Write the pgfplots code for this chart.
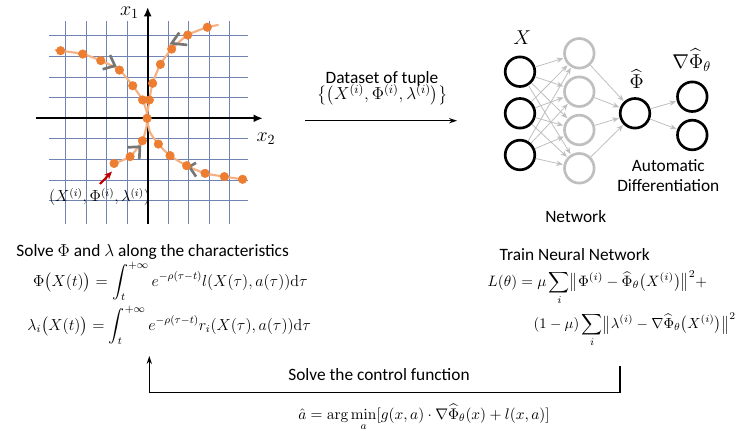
\RequirePackage{fix-cm}
\documentclass[border=0pt]{standalone}
\usepackage{amsmath}
\usepackage[no-math]{fontspec}
\setmainfont{Carlito}
\usepackage{pgfplots}
\pgfplotsset{compat=1.18}
\usetikzlibrary{arrows.meta,calc}

\definecolor{gridc}{RGB}{112,132,178}
\definecolor{orangedot}{RGB}{237,125,49}
\definecolor{peach}{RGB}{244,177,131}
\definecolor{chev}{RGB}{118,118,118}
\definecolor{darkred}{RGB}{192,0,0}
\definecolor{netgray}{RGB}{191,191,191}

\begin{document}
\begin{tikzpicture}[font=\fontsize{13}{15.6}\selectfont]

% ---------------- left: characteristics plot ----------------
\begin{axis}[
  at={(110.775pt,233.775pt)}, anchor=origin,
  scale only axis, width=149.1pt, height=151.9pt,
  xmin=-4.8, xmax=4.9, ymin=-5.13, ymax=4.7,
  xtick={-4,...,4}, ytick={-4,...,4},
  xticklabels={}, yticklabels={},
  major tick length=0pt,
  grid=major, grid style={gridc, line width=0.8pt},
  axis line style={draw=none},
  clip=false,
]
% coordinate axes
\draw[black, line width=1.6pt, -{Latex[length=7pt,width=6pt]}] (axis cs:-5.45,0) -- (axis cs:5.62,0);
\draw[black, line width=1.6pt, -{Latex[length=7pt,width=6pt]}] (axis cs:0,-5.13) -- (axis cs:0,5.40);
% trajectories
\addplot[peach, line width=1.6pt, smooth, tension=0.4] coordinates {
  (-4.53,3.32) (-4.25,3.28) (-3.17,3.12) (-2.29,2.80) (-1.38,2.34) (-0.73,1.58) (-0.25,0.89) (-0.06,0.35) (-0.03,0)};
\addplot[peach, line width=1.6pt, smooth, tension=0.4] coordinates {
  (3.46,4.53) (2.91,4.42) (1.95,4.04) (1.17,3.36) (0.62,2.62) (0.24,1.70) (0.08,0.89) (0.0,0.35) (-0.03,0)};
\addplot[peach, line width=1.6pt, smooth, tension=0.4] coordinates {
  (-1.80,-2.26) (-1.64,-2.19) (-0.86,-1.86) (-0.26,-1.09) (-0.06,-0.40) (-0.03,0)};
\addplot[peach, line width=1.6pt, smooth, tension=0.4] coordinates {
  (-0.03,0) (0.10,-0.65) (0.52,-1.25) (1.09,-1.81) (1.90,-2.30) (2.80,-2.67) (3.74,-2.83) (4.63,-2.96) (4.85,-2.98)};
% direction chevrons
\draw[chev, line width=2pt] (axis cs:-1.84,3.07) -- (axis cs:-1.60,2.55) -- (axis cs:-2.20,2.38);
\draw[chev, line width=2pt] (axis cs:1.54,4.16) -- (axis cs:1.17,3.64) -- (axis cs:1.93,3.56);
\draw[chev, line width=2pt] (axis cs:-1.00,-1.41) -- (axis cs:-0.38,-1.38) -- (axis cs:-0.41,-1.99);
\draw[chev, line width=2pt] (axis cs:2.36,-2.16) -- (axis cs:2.03,-2.35) -- (axis cs:2.36,-2.83);
% sample points
\addplot[only marks, mark=*, mark size=3.2pt, orangedot, mark options={draw=none, fill=orangedot}] coordinates {
  (-4.25,3.28) (-3.17,3.12) (-2.29,2.80) (-1.38,2.34) (-0.73,1.58) (-0.25,0.89)
  (2.91,4.42) (1.95,4.04) (1.17,3.36) (0.62,2.62) (0.24,1.70) (0.08,0.89)
  (-1.64,-2.19) (-0.86,-1.86) (-0.26,-1.09) (-0.03,0)
  (0.52,-1.25) (1.09,-1.81) (1.90,-2.30) (2.80,-2.67) (3.74,-2.83) (4.63,-2.96)};
\end{axis}

\begin{scope}[x=0.75pt, y=-0.75pt, yshift=322.5pt]
\useasboundingbox (0,0) rectangle (738,430);

\node[font=\fontsize{15}{17}\selectfont] at (129.5,12.5) {$x_1$};
\node[font=\fontsize{15}{17}\selectfont] at (266,139) {$x_2$};
\draw[darkred, line width=1.6pt, -{Stealth[length=6pt,width=5pt]}] (100,184) -- (112,171.5);
\node[font=\fontsize{12}{14}\selectfont] at (99.5,197) {$(X^{(i)},\Phi^{(i)},\lambda^{(i)})$};

% ---------------- dataset arrow ----------------
\node at (382,79) {Dataset of tuple};
\node at (382.5,95) {$\bigl\{\bigl(X^{(i)},\Phi^{(i)},\lambda^{(i)}\bigr)\bigr\}$};
\draw[black, line width=0.8pt, -{Stealth[length=6pt,width=4pt]}] (305,120.7) -- (457,120.7);

% ---------------- network ----------------
\tikzset{
  inn/.style={circle, draw=black, line width=2pt, minimum size=22.2pt, inner sep=0pt},
  hid/.style={circle, draw=netgray, line width=2pt, minimum size=22.2pt, inner sep=0pt},
  edge/.style={netgray, line width=0.6pt, -{Stealth[length=5pt,width=4pt]}, shorten >=0.5pt},
}
\node[inn] (i1) at (520,71.7) {};
\node[inn] (i2) at (520,113.3) {};
\node[inn] (i3) at (520,155) {};
\node[hid] (h1) at (579.3,53.3) {};
\node[hid] (h2) at (579.3,91.7) {};
\node[hid] (h3) at (579.3,130) {};
\node[hid] (h4) at (579.3,168.3) {};
\node[inn] (o) at (635,113.3) {};
\node[inn] (g1) at (692.3,96.7) {};
\node[inn] (g2) at (692.3,135) {};
\foreach \a in {i1,i2,i3}{
  \foreach \b in {h1,h2,h3,h4}{
    \draw[edge] (\a) -- (\b);
  }
}
\foreach \b in {h1,h2,h3,h4}{ \draw[edge] (\b) -- (o); }
\draw[edge] (o) -- (g1);
\draw[edge] (o) -- (g2);

\node[font=\fontsize{15}{17}\selectfont] at (522.3,37.3) {$X$};
\node[font=\fontsize{15}{17}\selectfont] at (636.7,79) {$\widehat{\Phi}$};
\node[font=\fontsize{15}{17}\selectfont] at (691.7,60) {$\nabla\widehat{\Phi}_\theta$};
\node at (668.3,165.7) {Automatic};
\node at (668.3,185.7) {Differentiation};
\node at (575.7,216.7) {Network};

% ---------------- bottom left: equations ----------------
\node[anchor=west] at (11.7,251.7) {Solve $\Phi$ and $\lambda$ along the characteristics};
\node[anchor=base west, font=\fontsize{12}{14}\selectfont] at (28.3,286) {$\displaystyle \Phi\bigl(X(t)\bigr) = \int_t^{+\infty} e^{-\rho(\tau-t)} l(X(\tau),a(\tau))\mathrm{d}\tau$};
\node[anchor=base west, font=\fontsize{12}{14}\selectfont] at (22.7,330.5) {$\displaystyle \lambda_i\bigl(X(t)\bigr) = \int_t^{+\infty} e^{-\rho(\tau-t)} r_i(X(\tau),a(\tau))\mathrm{d}\tau$};

% ---------------- bottom right: loss ----------------
\node[anchor=west] at (495,255) {Train Neural Network};
\node[anchor=base west, font=\fontsize{11.3}{13}\selectfont] at (483,286.4) {$\displaystyle L(\theta) = \mu\sum_i \bigl\|\Phi^{(i)} - \widehat{\Phi}_\theta\bigl(X^{(i)}\bigr)\bigr\|^2 +$};
\node[anchor=base west, font=\fontsize{11}{13}\selectfont] at (529,328.7) {$\displaystyle (1-\mu)\sum_i \bigl\|\lambda^{(i)} - \nabla\widehat{\Phi}_\theta\bigl(X^{(i)}\bigr)\bigr\|^2$};

% ---------------- feedback loop ----------------
\draw[black, line width=0.8pt, -{Stealth[length=6pt,width=4pt]}] (620,366) -- (620,392.3) -- (149.3,392.3) -- (149.3,356);
\node at (379,375) {Solve the control function};
\node[anchor=base, font=\fontsize{11.5}{13}\selectfont] at (424,419.5) {$\displaystyle \hat a = \arg\min_a [g(x,a)\cdot\nabla\widehat{\Phi}_\theta(x) + l(x,a)]$};
\end{scope}
\end{tikzpicture}
\end{document}
